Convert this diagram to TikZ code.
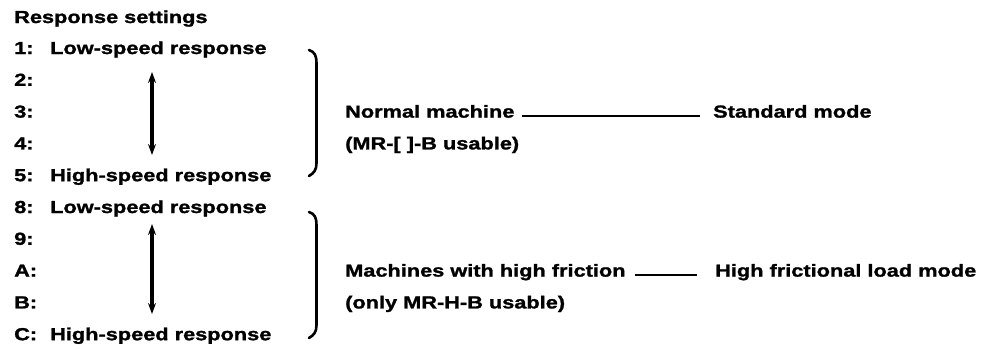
\documentclass[tikz,border=0pt]{standalone}
\usepackage{fontspec}
\setmainfont{Liberation Sans}[FakeStretch=1.25,BoldFeatures={FakeBold=1.4}]
\usetikzlibrary{arrows.meta,calc}
\begin{document}
\begin{tikzpicture}[x=1pt,y=-1pt,
  txt/.style={anchor=base west,inner sep=0pt,font=\fontsize{17.4}{19}\selectfont\bfseries},
  conn/.style={line width=2.2pt},
  speedrange/.style={line width=3.2pt,{Stealth[length=11pt,width=8pt]}-{Stealth[length=11pt,width=8pt]}},
  brace/.style={line width=2.6pt,line cap=round}]
\useasboundingbox (0,0) rectangle (988,349);
% header
\node[txt] (head) at (14,23) {Response settings};
% row labels
\foreach \k/\lab [count=\i from 0] in {r1/1:,r2/2:,r3/3:,r4/4:,r5/5:,r8/8:,r9/9:,rA/A:,rB/B:,rC/C:}
  \node[txt] (\k) at (14,{48+31.8*\i+6}) {\lab};
\node[txt] (low1) at (50,54) {Low-speed response};
\node[txt] (high1) at (50,181.2) {High-speed response};
\node[txt] (low2) at (50,213) {Low-speed response};
\node[txt] (high2) at (50,340.2) {High-speed response};
% speed ranges
\coordinate (u1) at (152,72);  \coordinate (d1) at (152,155);
\coordinate (u2) at (152,224); \coordinate (d2) at (152,314);
\draw[speedrange] (u1) -- (d1);
\draw[speedrange] (u2) -- (d2);
% closing braces
\draw[brace] (309,50) .. controls (315,52) and (316.5,56) .. (316.5,63) -- (316.5,163)
  .. controls (316.5,170) and (314,173) .. (309,176);
\draw[brace] (309,212) .. controls (315,214) and (316.5,218) .. (316.5,225) -- (316.5,325)
  .. controls (316.5,332) and (314,335) .. (309,338);
% machine groups
\node[txt] (nm) at (345,117.6) {Normal machine};
\node[txt] (nmu) at (345,149.4) {(MR-[ ]-B usable)};
\node[txt] (hf) at (345,276.6) {Machines with high friction};
\node[txt] (hfu) at (345,308.4) {(only MR-H-B usable)};
% modes
\node[txt] (sm) at (713,117.6) {Standard mode};
\node[txt] (hm) at (715,276.6) {High frictional load mode};
% links
\draw[conn] ($(nm.base east)+(7,-2)$) -- ($(sm.base west)+(-13,-2)$);
\draw[conn] ($(hf.base east)+(9,-2)$) -- ($(hm.base west)+(-18,-2)$);
\end{tikzpicture}
\end{document}
